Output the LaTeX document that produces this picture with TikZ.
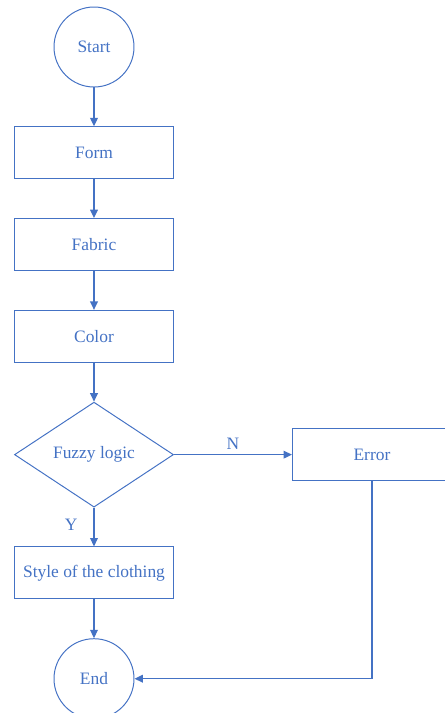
\documentclass[tikz,border=0pt]{standalone}
\usepackage{fontspec}
\setmainfont{Liberation Serif}
\usetikzlibrary{arrows.meta, positioning, shapes.geometric}
\definecolor{flowblue}{RGB}{68,114,196}
\tikzset{
  flowline/.style={color=flowblue, line width=0.9pt, -{Triangle[length=6pt,width=5.5pt]}},
  termnode/.style={circle, draw=flowblue, line width=0.7pt, minimum size=2cm, text=flowblue},
  boxnode/.style={rectangle, draw=flowblue, line width=0.7pt, minimum width=3.975cm, minimum height=1.3cm, text=flowblue},
  decnode/.style={diamond, draw=flowblue, line width=0.7pt, inner sep=0pt, aspect=1.5, minimum width=3.975cm, minimum height=2.625cm, text=flowblue}
}

\begin{document}
\begin{tikzpicture}[node distance=0.97cm, font=\fontsize{12.4}{14}\selectfont]
\useasboundingbox (-2.35,1.175) rectangle (8.75,-16.65);
%main column
\node[termnode] (start) at (0,0) {Start};
\node[boxnode, below=of start] (form) {Form};
\node[boxnode, below=of form] (fabric) {Fabric};
\node[boxnode, below=of fabric] (color) {Color};
\node[decnode, below=of color] (fuzzy) {Fuzzy logic};
\node[boxnode, below=of fuzzy] (style) {Style of the clothing};
\node[termnode, below=of style] (end) {End};
%error branch
\node[boxnode, right=2.95cm of fuzzy] (error) {Error};
%connectors
\draw[flowline] (start) -- (form);
\draw[flowline] (form) -- (fabric);
\draw[flowline] (fabric) -- (color);
\draw[flowline] (color) -- (fuzzy);
\draw[flowline] (fuzzy) -- node[pos=0.45, left=8pt, text=flowblue] {Y} (style);
\draw[flowline] (fuzzy) -- node[above, text=flowblue] {N} (error);
\draw[flowline] (style) -- (end);
\draw[flowline] (error.south) |- (end.east);
\end{tikzpicture}
\end{document}
